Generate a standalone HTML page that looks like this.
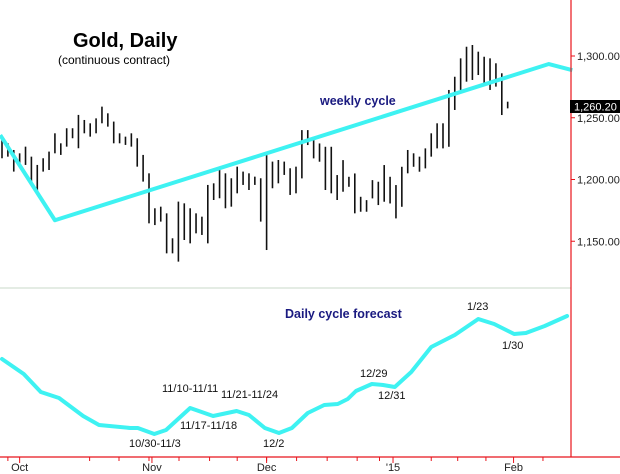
<!DOCTYPE html>
<html><head><meta charset="utf-8"><style>
html,body{margin:0;padding:0;background:#fff}
svg{display:block;font-family:"Liberation Sans",Arial,sans-serif}
</style></head><body>
<svg id="chart" width="620" height="474" viewBox="0 0 620 474">
<rect width="620" height="474" fill="#fff"/>
<g id="bars"></g>
<g id="weekly"></g>
<line x1="0" y1="288" x2="571" y2="288" stroke="#c8d8c8" stroke-width="1"/>
<line x1="571" y1="0" x2="571" y2="457" stroke="#e8141c" stroke-width="1.2"/>
<line x1="0" y1="457" x2="620" y2="457" stroke="#e8141c" stroke-width="1.2"/>
<g id="yticks"></g>
<g id="xticks"></g>
<g id="cycle"></g>
<rect x="570" y="100" width="50" height="13" fill="#000"/>
<text x="574" y="110.5" font-size="11" fill="#fff">1,260.20</text>
<text x="73" y="47" font-size="20" font-weight="bold" fill="#000">Gold, Daily</text>
<text x="58" y="64" font-size="12" fill="#000">(continuous contract)</text>
<text x="320" y="105" font-size="12.5" font-weight="bold" fill="#1a1a80">weekly cycle</text>
<text x="285" y="318" font-size="12.5" font-weight="bold" fill="#1a1a80">Daily cycle forecast</text>
<g font-size="11" fill="#111">
<text x="467" y="310">1/23</text>
<text x="502" y="349">1/30</text>
<text x="360" y="377">12/29</text>
<text x="378" y="399">12/31</text>
<text x="162" y="392">11/10-11/11</text>
<text x="221" y="398">11/21-11/24</text>
<text x="180" y="429">11/17-11/18</text>
<text x="129" y="447">10/30-11/3</text>
<text x="263" y="447">12/2</text>
</g>
</svg>
<script>
const highs=[1234.7,1229.3,1223.9,1221.2,1226.6,1218.5,1211.8,1217.2,1222.6,1237.4,1229.3,1241.5,1241.5,1252.3,1248.2,1245.5,1249.5,1259.0,1253.6,1246.9,1237.4,1234.7,1237.4,1233.4,1219.9,1205.0,1176.7,1178.0,1172.6,1152.4,1182.1,1180.7,1176.7,1172.6,1169.9,1195.6,1196.9,1207.7,1205.0,1201.0,1210.4,1206.4,1205.0,1202.3,1201.0,1222.6,1214.5,1215.8,1214.5,1209.1,1210.4,1240.0,1240.0,1234.6,1229.2,1226.5,1226.5,1203.6,1215.7,1202.2,1204.9,1186.0,1183.3,1199.5,1198.2,1211.7,1202.2,1195.5,1210.3,1223.9,1221.2,1218.5,1225.2,1237.4,1245.5,1245.5,1272.5,1283.2,1298.1,1307.5,1308.9,1303.5,1299.4,1298.1,1294.1,1286.0,1263.0];
const lows=[1217.2,1218.5,1206.4,1211.8,1211.8,1195.6,1190.2,1206.4,1207.7,1221.2,1219.9,1226.6,1233.4,1225.3,1237.4,1234.7,1237.4,1245.5,1242.8,1229.3,1229.3,1228.0,1226.6,1210.4,1198.3,1164.5,1163.1,1165.9,1140.2,1140.2,1133.5,1151.0,1148.3,1156.4,1155.1,1148.3,1183.4,1184.8,1176.7,1178.0,1188.8,1195.6,1191.5,1195.6,1165.9,1142.9,1192.9,1196.9,1203.7,1187.5,1188.8,1200.9,1227.9,1217.1,1214.4,1191.5,1188.8,1183.4,1190.1,1194.1,1172.6,1173.9,1173.9,1184.7,1179.3,1182.0,1180.6,1168.5,1177.9,1205.0,1210.3,1206.3,1209.0,1218.5,1225.2,1225.2,1226.5,1256.3,1272.5,1279.2,1280.6,1284.6,1276.5,1272.5,1275.2,1252.2,1257.6];
const weeklyDays=[-0.3,9,93,97];
const weeklyVals=[1236,1167,1293.5,1288.5];
const cycleDays=[0,3.7,6.6,9.7,13.8,16.5,21.8,23.1,25.9,27.9,32,35.9,39.9,42,44.7,47.1,49.3,52,54.8,57.1,58.8,60.2,62.9,64.8,66.8,69.6,73,77,81,83.7,87.1,89.1,92.3,96.1];
const cycleVals=[91,76,58,52,34,25,22,22,16,20,42,34,39,35,22,17,22,37,45,46,51,59,66,65,63,78,103,115,131,126,116,117,124,134];
const yTicks=[1300,1250,1200,1150];
const yTickLabels=["1,300.00","1,250.00","1,200.00","1,150.00"];
const monthLabels=["Oct","Nov","Dec","'15","Feb"];
const monthDays=[3,25.5,45,66.5,87];
const weekDays=[1,14.9,19.9,25,30.1,35.3,40,45,50.1,55.3,60.4,64.2,73,77.5,82.3,92];

const NS="http://www.w3.org/2000/svg";
const xS=d=>2+d*5.88;
const yP=p=>56+(1300-p)*1.235;
const yC=v=>450-v;
function mk(tag,attrs,parent){const e=document.createElementNS(NS,tag);for(const k in attrs)e.setAttribute(k,attrs[k]);parent.appendChild(e);return e;}

const gb=document.getElementById('bars');
highs.forEach((h,i)=>{
  const x=xS(i);
  const l=mk('line',{x1:x,x2:x,y1:yP(h),y2:yP(lows[i]),stroke:'#111','stroke-width':1.6},gb);
  
  
});

const gw=document.getElementById('weekly');
const wl=mk('polyline',{points:weeklyDays.map((d,i)=>xS(d)+','+yP(weeklyVals[i])).join(' '),fill:'none',stroke:'#3ef2f2','stroke-width':4,'stroke-linejoin':'round'},gw);



const gc=document.getElementById('cycle');
const cl=mk('polyline',{points:cycleDays.map((d,i)=>xS(d)+','+yC(cycleVals[i])).join(' '),fill:'none',stroke:'#3ef2f2','stroke-width':4,'stroke-linejoin':'round','stroke-linecap':'round'},gc);



const gy=document.getElementById('yticks');
yTicks.forEach((p,i)=>{
  const t=mk('line',{x1:571,x2:575,y1:yP(p),y2:yP(p),stroke:'#e8141c'},gy);
  
  
  const tx=mk('text',{x:577,y:yP(p)+4,'font-size':11,fill:'#222'},gy);
  tx.textContent=yTickLabels[i];
  
  
});

const gx=document.getElementById('xticks');
weekDays.forEach(d=>{
  const t=mk('line',{x1:xS(d),x2:xS(d),y1:457,y2:461,stroke:'#e8141c'},gx);
  
  
});
monthLabels.forEach((m,i)=>{
  const x=xS(monthDays[i]);
  const t=mk('line',{x1:x,x2:x,y1:457,y2:463,stroke:'#e8141c'},gx);
  
  
  const tx=mk('text',{x:x,y:471,'font-size':11,fill:'#222','text-anchor':'middle'},gx);
  tx.textContent=m;
  
  
});
</script>
</body></html>
